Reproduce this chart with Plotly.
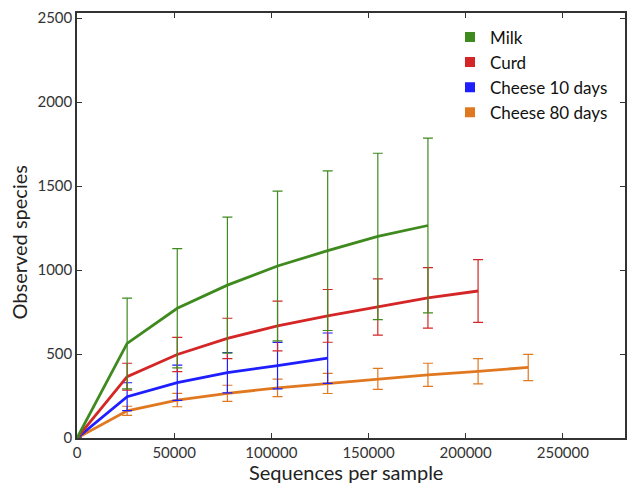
import plotly.graph_objects as go

seqs = [0, 25800, 51600, 77400, 103200, 129000, 154800, 180600, 206400, 232200]

milk_mean = [0, 563, 772, 910, 1024, 1115, 1200, 1265]
milk_err = [0, 270, 355, 405, 446, 475, 495, 520]

curd_mean = [0, 365, 497, 593, 667, 727, 780, 834, 875]
curd_err = [0, 80, 102, 120, 148, 157, 167, 180, 187]

c10_mean = [0, 246, 329, 389, 431, 475]
c10_err = [0, 83, 105, 120, 138, 150]

c80_mean = [0, 162, 226, 266, 298, 325, 352, 376, 397, 420]
c80_err = [0, 27, 40, 48, 52, 60, 63, 69, 75, 78]

series_names = ["Milk", "Curd", "Cheese 10 days", "Cheese 80 days"]
colors = ["#3f8a1e", "#d42626", "#1e1eff", "#e07820"]
means = [milk_mean, curd_mean, c10_mean, c80_mean]
errs = [milk_err, curd_err, c10_err, c80_err]

x_ticks = [0, 50000, 100000, 150000, 200000, 250000]
y_ticks = [0, 500, 1000, 1500, 2000, 2500]

fig = go.Figure()
# draw in reverse so Milk on top
for name, col, m, e in reversed(list(zip(series_names, colors, means, errs))):
    fig.add_trace(go.Scatter(
        x=seqs[:len(m)], y=m, mode="lines", name=name,
        line=dict(color=col, width=2.8),
        error_y=dict(type="data", array=e, visible=True, color=col,
                     thickness=1.2, width=5),
        showlegend=False, hoverinfo="skip"))

for name, col in zip(series_names, colors):
    fig.add_trace(go.Scatter(
        x=[None], y=[None], mode="markers", name=name,
        marker=dict(symbol="square", size=10, color=col)))

font = "Lato, Open Sans, DejaVu Sans, sans-serif"
axis_common = dict(
    showgrid=False, zeroline=False, showline=True, linecolor="#333333",
    linewidth=1.5, mirror="ticks", ticks="inside", ticklen=5,
    tickcolor="#333333", tickwidth=1.2, automargin=False,
    tickfont=dict(size=15, color="#333333", family=font))

fig.update_layout(
    width=627, height=485,
    margin=dict(l=77, r=2, t=13, b=47),
    paper_bgcolor="white", plot_bgcolor="white",
    font=dict(family=font, color="#222222"),
    xaxis=dict(range=[0, 282000], tickvals=x_ticks,
               ticktext=[str(v) for v in x_ticks], **axis_common),
    yaxis=dict(range=[0, 2530], tickvals=y_ticks,
               ticktext=[str(v) for v in y_ticks], **axis_common),
    legend=dict(x=(450 - 77) / 548, y=0.985, xanchor="left", yanchor="top",
                font=dict(size=17, color="#111111", family=font),
                bgcolor="rgba(0,0,0,0)", itemwidth=30, tracegroupgap=0),
    showlegend=True,
    annotations=[
        dict(text="Sequences per sample", xref="paper", yref="paper",
             x=0.49, y=0, yshift=-34, xanchor="center", yanchor="middle",
             showarrow=False, font=dict(size=20, color="#222222", family=font)),
        dict(text="Observed species", xref="paper", yref="paper",
             x=0, y=0.46, xshift=-59, xanchor="center", yanchor="middle",
             textangle=-90, showarrow=False,
             font=dict(size=20, color="#222222", family=font)),
    ],
)

fig.write_html(
    "out.html",
    config={"displayModeBar": False},
    post_script="document.body.style.margin='0';document.body.style.overflow='hidden';",
)
